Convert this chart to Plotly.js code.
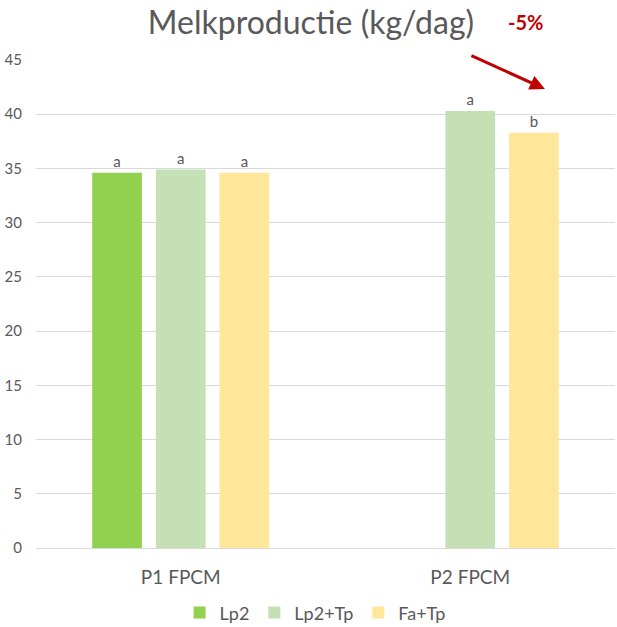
<!DOCTYPE html>
<html>
<head>
<meta charset="utf-8">
<script src="https://cdn.plot.ly/plotly-3.0.1.min.js"></script>
<style>html,body{margin:0;padding:0;background:#fff;}#chart{width:617px;height:627px;}</style>
</head>
<body>
<div id="chart"></div>
<script>
const categories = ["P1 FPCM", "P2 FPCM"];
const seriesNames = ["Lp2", "Lp2+Tp", "Fa+Tp"];
const lp2 = [34.6, null];
const lp2tp = [34.9, 40.3];
const fatp = [34.6, 38.3];
const lp2Letters = ["a", ""];
const lp2tpLetters = ["a", "a"];
const fatpLetters = ["a", "b"];
const yTicks = [0, 5, 10, 15, 20, 25, 30, 35, 40, 45];
const colors = ["#92D050", "#C5E0B4", "#FFE699"];

const font = "Lato, 'Open Sans', sans-serif";
const gray = "#595959";

function tr(name, vals, letters, color) {
  return {
    type: "bar", name: name, x: categories, y: vals,
    text: letters, textposition: "outside", cliponaxis: false,
    textfont: {family: font, size: 15, color: gray},
    marker: {color: color}, hoverinfo: "none"
  };
}

const data = [
  tr(seriesNames[0], lp2, lp2Letters, colors[0]),
  tr(seriesNames[1], lp2tp, lp2tpLetters, colors[1]),
  tr(seriesNames[2], fatp, fatpLetters, colors[2])
];

const layout = {
  width: 617, height: 627,
  margin: {l: 36, r: 2, t: 60, b: 79, autoexpand: false},
  paper_bgcolor: "#fff", plot_bgcolor: "#fff",
  barmode: "group", bargap: 0.34, bargroupgap: 0.22,
  font: {family: font, color: gray},
  title: {text: "Melkproductie (kg/dag)", x: 0.504, xanchor: "center", xref: "container",
          y: 0.963, yanchor: "middle", yref: "container", font: {family: font, size: 32, color: gray}},
  xaxis: {type: "category", showgrid: false, showline: true, linecolor: "#D9D9D9", automargin: false,
          ticks: "", ticklabelstandoff: 12, tickfont: {family: font, size: 19, color: gray}, fixedrange: true},
  yaxis: {range: [0, 45], tickvals: yTicks, ticktext: yTicks.map(String), showgrid: true, gridcolor: "#D9D9D9",
          zeroline: false, showline: false, ticks: "", ticklabelstandoff: 13, automargin: false,
          tickfont: {family: font, size: 15, color: gray}, fixedrange: true},
  showlegend: true,
  legend: {orientation: "h", x: 0.482, xanchor: "center", y: -0.133, yanchor: "middle",
           font: {family: font, size: 18, color: gray}, itemwidth: 30, traceorder: "normal"},
  annotations: [
    {text: "<b>-5%</b>", xref: "paper", yref: "paper", x: 0.8446, y: 1.078,
     xanchor: "center", yanchor: "middle", showarrow: false,
     font: {family: font, size: 20, color: "#C00000"}},
    {xref: "paper", yref: "paper", x: 0.879, y: 0.9406, ax: -75, ay: -34,
     showarrow: true, arrowhead: 2, arrowsize: 1, arrowwidth: 3, arrowcolor: "#C00000", text: ""}
  ]
};

Plotly.newPlot("chart", data, layout, {displayModeBar: false, staticPlot: true});
</script>
</body>
</html>
